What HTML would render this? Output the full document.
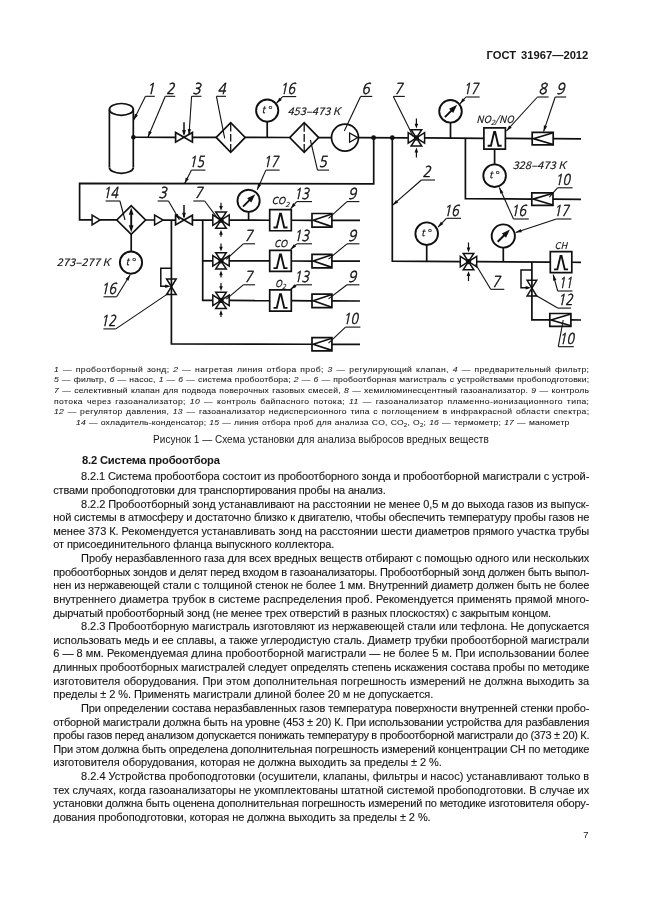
<!DOCTYPE html>
<html lang="ru"><head><meta charset="utf-8"><title>ГОСТ 31967—2012</title>
<style>
html,body{margin:0;padding:0;background:#fff;}
body{width:646px;height:913px;position:relative;overflow:hidden;font-family:"Liberation Sans", Arial, sans-serif;color:#161616;}
.l{position:absolute;white-space:nowrap;margin:0;}
.b{font-size:11.0px;line-height:14px;height:14px;-webkit-text-stroke:0.12px #161616;}
.g{font-size:7.6px;line-height:10px;height:10px;transform:scaleX(1.13);transform-origin:0 0;-webkit-text-stroke:0.07px #161616;}
.g sub{font-size:5.5px;line-height:0;vertical-align:-1.5px;}
svg{position:absolute;left:0;top:0;}
#sheet{position:absolute;left:0;top:0;width:646px;height:913px;will-change:transform;}
</style></head>
<body>
<div id="sheet">
<svg width="646" height="360" viewBox="0 0 646 360">
<g transform="translate(0 0.4)" stroke="#101010" fill="none" stroke-linecap="butt" stroke-linejoin="miter" font-family="'Noto Sans CJK SC', 'Liberation Sans', sans-serif" font-style="italic">
<ellipse cx="121.35" cy="109.0" rx="11.95" ry="5.9" stroke-width="1.7" fill="none"/>
<line x1="109.4" y1="109" x2="109.4" y2="167" stroke-width="1.7"/>
<line x1="133.3" y1="109" x2="133.3" y2="167" stroke-width="1.7"/>
<path d="M109.4,167.0 A11.95,5.9 0 0 0 133.3,167.0" stroke-width="1.7" fill="none"/>
<circle cx="133.4" cy="136.86" r="2.3" fill="#101010" stroke="none"/>
<line x1="133.2" y1="136.86" x2="175.6" y2="136.93" stroke-width="1.7"/>
<line x1="192.4" y1="136.96" x2="216.2" y2="137" stroke-width="1.7"/>
<line x1="245.2" y1="137.05" x2="289.7" y2="137.12" stroke-width="1.7"/>
<line x1="318.7" y1="137.17" x2="331.1" y2="137.19" stroke-width="1.7"/>
<line x1="358.9" y1="137.23" x2="407.9" y2="137.45" stroke-width="1.7"/>
<line x1="424.9" y1="137.55" x2="483.9" y2="137.9" stroke-width="1.7"/>
<line x1="505.4" y1="138.02" x2="532.2" y2="138.18" stroke-width="1.7"/>
<line x1="553.2" y1="138.3" x2="581" y2="138.47" stroke-width="1.7"/>
<polygon points="175.6,132.15 175.6,141.75 184,136.95" stroke-width="1.7" fill="none"/>
<polygon points="192.4,132.15 192.4,141.75 184,136.95" stroke-width="1.7" fill="none"/>
<line x1="184" y1="121.95" x2="184" y2="133.95" stroke-width="1.5"/>
<polygon points="184,135.95 182.1,129.55 185.9,129.55" fill="#101010" stroke="none"/>
<polygon points="216.2,137.02 230.7,122.22 245.2,137.02 230.7,151.82" stroke-width="1.7" fill="none"/>
<line x1="230.7" y1="123.52" x2="230.7" y2="150.52" stroke-width="1.3" stroke-dasharray="7.6 2.4"/>
<circle cx="267.2" cy="110.2" r="11.1" stroke-width="1.9" fill="none"/>
<text x="261.6" y="113" font-size="9.8" text-anchor="start" fill="#101010" stroke="#101010" stroke-width="0.1" stroke-width="0.3">t</text>
<text x="268.2" y="114.8" font-size="12" text-anchor="start" fill="#101010" stroke="#101010" stroke-width="0.1" stroke-width="0.5" font-style="normal">°</text>
<line x1="267.2" y1="121.3" x2="267.2" y2="137.08" stroke-width="1.7"/>
<polygon points="289.7,137.14 304.2,122.34 318.7,137.14 304.2,151.94" stroke-width="1.7" fill="none"/>
<line x1="304.2" y1="123.64" x2="304.2" y2="150.64" stroke-width="1.3" stroke-dasharray="7.6 2.4"/>
<circle cx="345" cy="137.21" r="13.5" stroke-width="1.7" fill="none"/>
<polygon points="349.6,132.61 349.6,141.81 357.8,137.21" stroke-width="1.3" fill="none"/>
<circle cx="373.6" cy="137.26" r="2.4" fill="#101010" stroke="none"/>
<circle cx="392.3" cy="137.36" r="2.4" fill="#101010" stroke="none"/>
<polygon points="408.2,132.2 408.2,142.8 416.4,137.5" stroke-width="1.5" fill="none"/>
<polygon points="424.6,132.2 424.6,142.8 416.4,137.5" stroke-width="1.5" fill="none"/>
<polygon points="411.1,129.3 421.7,129.3 416.4,137.5" stroke-width="1.5" fill="none"/>
<polygon points="411.1,145.7 421.7,145.7 416.4,137.5" stroke-width="1.5" fill="none"/>
<circle cx="416.4" cy="137.5" r="2.6" fill="#101010" stroke="none"/>
<line x1="416.4" y1="118.2" x2="416.4" y2="125.5" stroke-width="1.2"/>
<polygon points="416.4,128.2 414.6,123.4 418.2,123.4" fill="#101010" stroke="none"/>
<line x1="416.4" y1="157.2" x2="416.4" y2="149.5" stroke-width="1.2"/>
<polygon points="416.4,147.2 418.2,152 414.6,152" fill="#101010" stroke="none"/>
<circle cx="450.5" cy="110.9" r="11.3" stroke-width="1.9" fill="none"/>
<line x1="444.9" y1="116.7" x2="453.9" y2="107.7" stroke-width="2.0"/>
<polygon points="457.2,104.4 453.17,112.53 449.07,108.43" fill="#101010" stroke="none"/>
<line x1="450.5" y1="122.2" x2="450.5" y2="137.7" stroke-width="1.7"/>
<polygon points="483.9,127.46 505.4,127.46 505.4,148.66 483.9,148.66" stroke-width="1.7" fill="none"/>
<polyline points="487.65,145.36 490.95,145.36 494.15,131.66 495.15,131.66 498.35,145.36 501.65,145.36" stroke-width="1.9" fill="none"/>
<polygon points="532.2,131.94 553.2,131.94 553.2,144.54 532.2,144.54" stroke-width="1.7" fill="none"/>
<polyline points="553.2,132.44 533.4,138.24 553.2,144.04" stroke-width="1.6" fill="none"/>
<polyline points="465.4,137.79 465.4,198.36 531.8,198.67" stroke-width="1.7" fill="none"/>
<polygon points="531.8,192.42 553,192.42 553,205.02 531.8,205.02" stroke-width="1.7" fill="none"/>
<polyline points="553,192.92 533,198.72 553,204.52" stroke-width="1.6" fill="none"/>
<line x1="553" y1="198.77" x2="581" y2="198.89" stroke-width="1.7"/>
<line x1="494.6" y1="148.66" x2="494.6" y2="164" stroke-width="1.7"/>
<circle cx="494.6" cy="175.3" r="11.3" stroke-width="1.9" fill="none"/>
<text x="489" y="178.1" font-size="9.8" text-anchor="start" fill="#101010" stroke="#101010" stroke-width="0.1" stroke-width="0.3">t</text>
<text x="495.6" y="179.9" font-size="12" text-anchor="start" fill="#101010" stroke="#101010" stroke-width="0.1" stroke-width="0.5" font-style="normal">°</text>
<polyline points="373.7,137.26 373.7,183.5 79.6,183 79.6,219.49 92,219.52" stroke-width="1.7" fill="none"/>
<polygon points="92.1,214.62 92.1,224.42 100.1,219.52" stroke-width="1.5" fill="none"/>
<line x1="100.1" y1="219.53" x2="116.8" y2="219.56" stroke-width="1.7"/>
<polygon points="116.8,219.58 131.2,205.18 145.6,219.58 131.2,233.98" stroke-width="1.7" fill="none"/>
<line x1="131.2" y1="212.58" x2="131.2" y2="226.58" stroke-width="1.9"/>
<polygon points="131.2,206.98 133.5,214.38 128.9,214.38" fill="#101010" stroke="none"/>
<polygon points="131.2,232.18 128.9,224.78 133.5,224.78" fill="#101010" stroke="none"/>
<line x1="131.2" y1="233.98" x2="131.2" y2="251.2" stroke-width="1.7"/>
<circle cx="131" cy="262.2" r="11.1" stroke-width="1.9" fill="none"/>
<text x="125.4" y="265" font-size="9.8" text-anchor="start" fill="#101010" stroke="#101010" stroke-width="0.1" stroke-width="0.3">t</text>
<text x="132" y="266.8" font-size="12" text-anchor="start" fill="#101010" stroke="#101010" stroke-width="0.1" stroke-width="0.5" font-style="normal">°</text>
<line x1="145.6" y1="219.61" x2="154.6" y2="219.62" stroke-width="1.7"/>
<polygon points="154.6,214.73 154.6,224.53 163.1,219.63" stroke-width="1.5" fill="none"/>
<line x1="163.1" y1="219.64" x2="175.6" y2="219.66" stroke-width="1.7"/>
<polygon points="175.6,214.88 175.6,224.48 184,219.68" stroke-width="1.7" fill="none"/>
<polygon points="192.4,214.88 192.4,224.48 184,219.68" stroke-width="1.7" fill="none"/>
<line x1="184" y1="204.68" x2="184" y2="216.68" stroke-width="1.5"/>
<polygon points="184,218.68 182.1,212.28 185.9,212.28" fill="#101010" stroke="none"/>
<line x1="192.4" y1="219.69" x2="212.8" y2="219.73" stroke-width="1.7"/>
<polygon points="212.8,214.44 212.8,225.04 221,219.74" stroke-width="1.5" fill="none"/>
<polygon points="229.2,214.44 229.2,225.04 221,219.74" stroke-width="1.5" fill="none"/>
<polygon points="215.7,211.54 226.3,211.54 221,219.74" stroke-width="1.5" fill="none"/>
<polygon points="215.7,227.94 226.3,227.94 221,219.74" stroke-width="1.5" fill="none"/>
<circle cx="221" cy="219.74" r="2.6" fill="#101010" stroke="none"/>
<line x1="221" y1="202.44" x2="221" y2="207.74" stroke-width="1.2"/>
<polygon points="221,210.44 219.2,205.64 222.8,205.64" fill="#101010" stroke="none"/>
<line x1="221" y1="236.34" x2="221" y2="231.74" stroke-width="1.2"/>
<polygon points="221,229.44 222.8,234.24 219.2,234.24" fill="#101010" stroke="none"/>
<line x1="229.2" y1="219.75" x2="269.7" y2="219.83" stroke-width="1.7"/>
<polygon points="269.7,209.14 291.3,209.14 291.3,230.34 269.7,230.34" stroke-width="1.7" fill="none"/>
<polyline points="273.5,227.04 276.8,227.04 280,213.34 281,213.34 284.2,227.04 287.5,227.04" stroke-width="1.9" fill="none"/>
<line x1="291.3" y1="219.86" x2="312" y2="219.9" stroke-width="1.7"/>
<polygon points="312,213.12 331.9,213.12 331.9,226.72 312,226.72" stroke-width="1.7" fill="none"/>
<polyline points="331.9,213.62 313.2,219.92 331.9,226.22" stroke-width="1.6" fill="none"/>
<line x1="331.9" y1="219.93" x2="360" y2="219.98" stroke-width="1.7"/>
<polygon points="212.8,255.13 212.8,265.73 221,260.43" stroke-width="1.5" fill="none"/>
<polygon points="229.2,255.13 229.2,265.73 221,260.43" stroke-width="1.5" fill="none"/>
<polygon points="215.7,252.23 226.3,252.23 221,260.43" stroke-width="1.5" fill="none"/>
<polygon points="215.7,268.63 226.3,268.63 221,260.43" stroke-width="1.5" fill="none"/>
<circle cx="221" cy="260.43" r="2.6" fill="#101010" stroke="none"/>
<line x1="221" y1="243.13" x2="221" y2="248.43" stroke-width="1.2"/>
<polygon points="221,251.13 219.2,246.33 222.8,246.33" fill="#101010" stroke="none"/>
<line x1="221" y1="277.03" x2="221" y2="272.43" stroke-width="1.2"/>
<polygon points="221,270.13 222.8,274.93 219.2,274.93" fill="#101010" stroke="none"/>
<line x1="229.2" y1="260.45" x2="269.7" y2="260.55" stroke-width="1.7"/>
<polygon points="269.7,249.88 291.3,249.88 291.3,271.07 269.7,271.07" stroke-width="1.7" fill="none"/>
<polyline points="273.5,267.77 276.8,267.77 280,254.07 281,254.07 284.2,267.77 287.5,267.77" stroke-width="1.9" fill="none"/>
<line x1="291.3" y1="260.6" x2="312" y2="260.65" stroke-width="1.7"/>
<polygon points="312,253.88 331.9,253.88 331.9,267.48 312,267.48" stroke-width="1.7" fill="none"/>
<polyline points="331.9,254.38 313.2,260.68 331.9,266.98" stroke-width="1.6" fill="none"/>
<line x1="331.9" y1="260.7" x2="360" y2="260.77" stroke-width="1.7"/>
<line x1="202.7" y1="260.38" x2="212.8" y2="260.41" stroke-width="1.7"/>
<polygon points="212.8,294.67 212.8,305.27 221,299.97" stroke-width="1.5" fill="none"/>
<polygon points="229.2,294.67 229.2,305.27 221,299.97" stroke-width="1.5" fill="none"/>
<polygon points="215.7,291.77 226.3,291.77 221,299.97" stroke-width="1.5" fill="none"/>
<polygon points="215.7,308.17 226.3,308.17 221,299.97" stroke-width="1.5" fill="none"/>
<circle cx="221" cy="299.97" r="2.6" fill="#101010" stroke="none"/>
<line x1="221" y1="282.67" x2="221" y2="287.97" stroke-width="1.2"/>
<polygon points="221,290.67 219.2,285.87 222.8,285.87" fill="#101010" stroke="none"/>
<line x1="221" y1="316.57" x2="221" y2="311.97" stroke-width="1.2"/>
<polygon points="221,309.67 222.8,314.47 219.2,314.47" fill="#101010" stroke="none"/>
<line x1="229.2" y1="300.01" x2="269.7" y2="300.2" stroke-width="1.7"/>
<polygon points="269.7,289.55 291.3,289.55 291.3,310.75 269.7,310.75" stroke-width="1.7" fill="none"/>
<polyline points="273.5,307.44 276.8,307.44 280,293.75 281,293.75 284.2,307.44 287.5,307.44" stroke-width="1.9" fill="none"/>
<line x1="291.3" y1="300.3" x2="312" y2="300.4" stroke-width="1.7"/>
<polygon points="312,293.64 331.9,293.64 331.9,307.24 312,307.24" stroke-width="1.7" fill="none"/>
<polyline points="331.9,294.14 313.2,300.44 331.9,306.74" stroke-width="1.6" fill="none"/>
<line x1="331.9" y1="300.49" x2="360" y2="300.62" stroke-width="1.7"/>
<line x1="202.7" y1="299.88" x2="212.8" y2="299.93" stroke-width="1.7"/>
<line x1="202.7" y1="219.71" x2="202.7" y2="300.68" stroke-width="1.7"/>
<circle cx="248.6" cy="200.4" r="11.1" stroke-width="1.9" fill="none"/>
<line x1="243" y1="206.2" x2="252" y2="197.2" stroke-width="2.0"/>
<polygon points="255.3,193.9 251.27,202.03 247.17,197.93" fill="#101010" stroke="none"/>
<line x1="248.6" y1="211.5" x2="248.6" y2="219.79" stroke-width="1.7"/>
<polyline points="171.4,219.65 171.4,343.46 312,343.85" stroke-width="1.7" fill="none"/>
<polygon points="312,337.28 331.9,337.28 331.9,350.48 312,350.48" stroke-width="1.7" fill="none"/>
<polyline points="331.9,337.78 313.2,343.88 331.9,349.98" stroke-width="1.6" fill="none"/>
<line x1="331.9" y1="343.91" x2="360" y2="343.98" stroke-width="1.7"/>
<polygon points="166.6,278.5 176.2,278.5 171.4,286.3" stroke-width="1.5" fill="none"/>
<polygon points="166.6,294.1 176.2,294.1 171.4,286.3" stroke-width="1.5" fill="none"/>
<polyline points="171.4,267.9 160.8,267.9 160.8,285.9 167.4,285.9" stroke-width="1.5" fill="none"/>
<polygon points="170.8,285.9 165.2,287.6 165.2,284.2" fill="#101010" stroke="none"/>
<polyline points="392.3,137.36 392.3,260.7 459.9,261.13" stroke-width="1.7" fill="none"/>
<circle cx="426.7" cy="233.3" r="11.3" stroke-width="1.9" fill="none"/>
<text x="421.1" y="236.1" font-size="9.8" text-anchor="start" fill="#101010" stroke="#101010" stroke-width="0.1" stroke-width="0.3">t</text>
<text x="427.7" y="237.9" font-size="12" text-anchor="start" fill="#101010" stroke="#101010" stroke-width="0.1" stroke-width="0.5" font-style="normal">°</text>
<line x1="426.7" y1="244.6" x2="426.7" y2="260.92" stroke-width="1.7"/>
<polygon points="460.3,255.88 460.3,266.48 468.5,261.18" stroke-width="1.5" fill="none"/>
<polygon points="476.7,255.88 476.7,266.48 468.5,261.18" stroke-width="1.5" fill="none"/>
<polygon points="463.2,252.98 473.8,252.98 468.5,261.18" stroke-width="1.5" fill="none"/>
<polygon points="463.2,269.38 473.8,269.38 468.5,261.18" stroke-width="1.5" fill="none"/>
<circle cx="468.5" cy="261.18" r="2.6" fill="#101010" stroke="none"/>
<line x1="468.5" y1="242.08" x2="468.5" y2="249.18" stroke-width="1.2"/>
<polygon points="468.5,251.88 466.7,247.08 470.3,247.08" fill="#101010" stroke="none"/>
<line x1="468.5" y1="280.68" x2="468.5" y2="273.18" stroke-width="1.2"/>
<polygon points="468.5,270.88 470.3,275.68 466.7,275.68" fill="#101010" stroke="none"/>
<line x1="477" y1="261.24" x2="550.4" y2="261.7" stroke-width="1.7"/>
<circle cx="503.3" cy="235.6" r="11.6" stroke-width="1.9" fill="none"/>
<line x1="497.7" y1="241.4" x2="506.7" y2="232.4" stroke-width="2.0"/>
<polygon points="510,229.1 505.97,237.23 501.87,233.13" fill="#101010" stroke="none"/>
<line x1="503.3" y1="247.2" x2="503.3" y2="261.4" stroke-width="1.7"/>
<polygon points="550.3,251.27 571.8,251.27 571.8,272.27 550.3,272.27" stroke-width="1.7" fill="none"/>
<polyline points="554.05,268.97 557.35,268.97 560.55,255.47 561.55,255.47 564.75,268.97 568.05,268.97" stroke-width="1.9" fill="none"/>
<line x1="572.2" y1="261.84" x2="581" y2="261.89" stroke-width="1.7"/>
<polyline points="531.9,261.58 531.9,319.41 549.8,319.48" stroke-width="1.7" fill="none"/>
<polygon points="527.1,279.9 536.7,279.9 531.9,287.7" stroke-width="1.5" fill="none"/>
<polygon points="527.1,295.5 536.7,295.5 531.9,287.7" stroke-width="1.5" fill="none"/>
<polyline points="531.9,269.5 521,269.5 521,287.3 527.9,287.3" stroke-width="1.5" fill="none"/>
<polygon points="531.3,287.3 525.7,289 525.7,285.6" fill="#101010" stroke="none"/>
<polygon points="549.8,313.12 570.9,313.12 570.9,325.92 549.8,325.92" stroke-width="1.7" fill="none"/>
<polyline points="570.9,313.62 551,319.52 570.9,325.42" stroke-width="1.6" fill="none"/>
<line x1="570.8" y1="319.56" x2="581" y2="319.6" stroke-width="1.7"/>
<line x1="145.5" y1="95.9" x2="154.8" y2="95.9" stroke-width="1.1"/>
<line x1="145.5" y1="95.9" x2="133.7" y2="119.6" stroke-width="1.1"/>
<polygon points="133.7,119.6 134.85,113.47 137.9,114.99" fill="#101010" stroke="none"/>
<text x="146.5" y="93.3" font-size="15.0" text-anchor="start" fill="#101010" stroke="#101010" stroke-width="0.45" textLength="8.2" lengthAdjust="spacingAndGlyphs" font-family="NanumGothic, 'Liberation Sans', sans-serif">1</text>
<line x1="165.3" y1="95.9" x2="175.2" y2="95.9" stroke-width="1.1"/>
<line x1="165.3" y1="95.9" x2="147.9" y2="136.8" stroke-width="1.1"/>
<polygon points="147.9,136.8 148.68,130.61 151.81,131.94" fill="#101010" stroke="none"/>
<text x="166.3" y="93.3" font-size="15.0" text-anchor="start" fill="#101010" stroke="#101010" stroke-width="0.45" textLength="8.2" lengthAdjust="spacingAndGlyphs" font-family="NanumGothic, 'Liberation Sans', sans-serif">2</text>
<line x1="191.6" y1="95.9" x2="201.5" y2="95.9" stroke-width="1.1"/>
<line x1="191.6" y1="95.9" x2="189" y2="134.6" stroke-width="1.1"/>
<polygon points="189,134.6 187.71,128.5 191.1,128.73" fill="#101010" stroke="none"/>
<text x="192.6" y="93.3" font-size="15.0" text-anchor="start" fill="#101010" stroke="#101010" stroke-width="0.45" textLength="8.2" lengthAdjust="spacingAndGlyphs" font-family="NanumGothic, 'Liberation Sans', sans-serif">3</text>
<line x1="216.4" y1="95.9" x2="226" y2="95.9" stroke-width="1.1"/>
<line x1="216.4" y1="95.9" x2="224.7" y2="137.9" stroke-width="1.1"/>
<text x="217.4" y="93.3" font-size="15.0" text-anchor="start" fill="#101010" stroke="#101010" stroke-width="0.45" textLength="8.2" lengthAdjust="spacingAndGlyphs" font-family="NanumGothic, 'Liberation Sans', sans-serif">4</text>
<line x1="282.6" y1="96.2" x2="296.2" y2="96.2" stroke-width="1.1"/>
<line x1="282.6" y1="96.2" x2="276.5" y2="102.8" stroke-width="1.1"/>
<polygon points="276.5,102.8 279.32,97.24 281.82,99.55" fill="#101010" stroke="none"/>
<text x="280" y="93.6" font-size="15.0" text-anchor="start" fill="#101010" stroke="#101010" stroke-width="0.45" textLength="15" lengthAdjust="spacingAndGlyphs" font-family="NanumGothic, 'Liberation Sans', sans-serif">16</text>
<line x1="360.6" y1="96" x2="372.3" y2="96" stroke-width="1.1"/>
<line x1="360.6" y1="96" x2="344.3" y2="130.6" stroke-width="1.1"/>
<text x="361.6" y="93.4" font-size="15.0" text-anchor="start" fill="#101010" stroke="#101010" stroke-width="0.45" textLength="8.2" lengthAdjust="spacingAndGlyphs" font-family="NanumGothic, 'Liberation Sans', sans-serif">6</text>
<line x1="393.3" y1="96" x2="404.8" y2="96" stroke-width="1.1"/>
<line x1="393.3" y1="96" x2="413.2" y2="136.2" stroke-width="1.1"/>
<text x="394.3" y="93.4" font-size="15.0" text-anchor="start" fill="#101010" stroke="#101010" stroke-width="0.45" textLength="8.2" lengthAdjust="spacingAndGlyphs" font-family="NanumGothic, 'Liberation Sans', sans-serif">7</text>
<line x1="465.8" y1="96.6" x2="479.6" y2="96.6" stroke-width="1.1"/>
<line x1="465.8" y1="96.6" x2="460" y2="103.4" stroke-width="1.1"/>
<polygon points="460,103.4 462.6,97.73 465.19,99.94" fill="#101010" stroke="none"/>
<text x="463.2" y="94" font-size="15.0" text-anchor="start" fill="#101010" stroke="#101010" stroke-width="0.45" textLength="15" lengthAdjust="spacingAndGlyphs" font-family="NanumGothic, 'Liberation Sans', sans-serif">17</text>
<line x1="537.4" y1="96.6" x2="548.6" y2="96.6" stroke-width="1.1"/>
<line x1="537.4" y1="96.6" x2="506.4" y2="130.6" stroke-width="1.1"/>
<polygon points="506.4,130.6 509.19,125.02 511.7,127.31" fill="#101010" stroke="none"/>
<text x="538.4" y="94" font-size="15.0" text-anchor="start" fill="#101010" stroke="#101010" stroke-width="0.45" textLength="8.2" lengthAdjust="spacingAndGlyphs" font-family="NanumGothic, 'Liberation Sans', sans-serif">8</text>
<line x1="555.2" y1="96.6" x2="566.2" y2="96.6" stroke-width="1.1"/>
<line x1="555.2" y1="96.6" x2="543.6" y2="131.2" stroke-width="1.1"/>
<polygon points="543.6,131.2 543.9,124.97 547.12,126.05" fill="#101010" stroke="none"/>
<text x="556.2" y="94" font-size="15.0" text-anchor="start" fill="#101010" stroke="#101010" stroke-width="0.45" textLength="8.2" lengthAdjust="spacingAndGlyphs" font-family="NanumGothic, 'Liberation Sans', sans-serif">9</text>
<line x1="317.5" y1="169.7" x2="329" y2="169.7" stroke-width="1.1"/>
<line x1="317.5" y1="169.7" x2="310.4" y2="139.6" stroke-width="1.1"/>
<text x="318.5" y="167.1" font-size="15.0" text-anchor="start" fill="#101010" stroke="#101010" stroke-width="0.45" textLength="8.2" lengthAdjust="spacingAndGlyphs" font-family="NanumGothic, 'Liberation Sans', sans-serif">5</text>
<line x1="191.5" y1="169.7" x2="205.4" y2="169.7" stroke-width="1.1"/>
<line x1="191.5" y1="169.7" x2="184.6" y2="183.2" stroke-width="1.1"/>
<polygon points="184.6,183.2 185.82,177.08 188.84,178.63" fill="#101010" stroke="none"/>
<text x="188.9" y="167.1" font-size="15.0" text-anchor="start" fill="#101010" stroke="#101010" stroke-width="0.45" textLength="15" lengthAdjust="spacingAndGlyphs" font-family="NanumGothic, 'Liberation Sans', sans-serif">15</text>
<line x1="265.9" y1="169.7" x2="279.6" y2="169.7" stroke-width="1.1"/>
<line x1="265.9" y1="169.7" x2="257.2" y2="189.4" stroke-width="1.1"/>
<polygon points="257.2,189.4 258.07,183.22 261.18,184.6" fill="#101010" stroke="none"/>
<text x="263.3" y="167.1" font-size="15.0" text-anchor="start" fill="#101010" stroke="#101010" stroke-width="0.45" textLength="15" lengthAdjust="spacingAndGlyphs" font-family="NanumGothic, 'Liberation Sans', sans-serif">17</text>
<line x1="421.4" y1="179.6" x2="435" y2="179.6" stroke-width="1.1"/>
<line x1="421.4" y1="179.6" x2="392.6" y2="204.8" stroke-width="1.1"/>
<polygon points="392.6,204.8 396,199.57 398.23,202.13" fill="#101010" stroke="none"/>
<text x="422.4" y="177" font-size="15.0" text-anchor="start" fill="#101010" stroke="#101010" stroke-width="0.45" textLength="8.2" lengthAdjust="spacingAndGlyphs" font-family="NanumGothic, 'Liberation Sans', sans-serif">2</text>
<line x1="557.5" y1="187.4" x2="572.6" y2="187.4" stroke-width="1.1"/>
<line x1="557.5" y1="187.4" x2="549.3" y2="196.8" stroke-width="1.1"/>
<text x="554.9" y="184.8" font-size="15.0" text-anchor="start" fill="#101010" stroke="#101010" stroke-width="0.45" textLength="15" lengthAdjust="spacingAndGlyphs" font-family="NanumGothic, 'Liberation Sans', sans-serif">10</text>
<line x1="105.6" y1="200.6" x2="119.9" y2="200.6" stroke-width="1.1"/>
<line x1="119.9" y1="200.6" x2="125" y2="219.6" stroke-width="1.1"/>
<text x="103" y="198" font-size="15.0" text-anchor="start" fill="#101010" stroke="#101010" stroke-width="0.45" textLength="15" lengthAdjust="spacingAndGlyphs" font-family="NanumGothic, 'Liberation Sans', sans-serif">14</text>
<line x1="157.6" y1="200.6" x2="168.5" y2="200.6" stroke-width="1.1"/>
<line x1="168.5" y1="200.6" x2="179.4" y2="219.4" stroke-width="1.1"/>
<polygon points="179.4,219.4 174.92,215.06 177.86,213.36" fill="#101010" stroke="none"/>
<text x="158.6" y="198" font-size="15.0" text-anchor="start" fill="#101010" stroke="#101010" stroke-width="0.45" textLength="8.2" lengthAdjust="spacingAndGlyphs" font-family="NanumGothic, 'Liberation Sans', sans-serif">3</text>
<line x1="193.3" y1="200.6" x2="204.7" y2="200.6" stroke-width="1.1"/>
<line x1="204.7" y1="200.6" x2="218" y2="218.4" stroke-width="1.1"/>
<text x="194.3" y="198" font-size="15.0" text-anchor="start" fill="#101010" stroke="#101010" stroke-width="0.45" textLength="8.2" lengthAdjust="spacingAndGlyphs" font-family="NanumGothic, 'Liberation Sans', sans-serif">7</text>
<line x1="296.6" y1="201.2" x2="312" y2="201.2" stroke-width="1.1"/>
<line x1="296.6" y1="201.2" x2="290.6" y2="208.33" stroke-width="1.1"/>
<polygon points="290.6,208.33 293.16,202.64 295.76,204.83" fill="#101010" stroke="none"/>
<text x="294" y="198.6" font-size="15.0" text-anchor="start" fill="#101010" stroke="#101010" stroke-width="0.45" textLength="15" lengthAdjust="spacingAndGlyphs" font-family="NanumGothic, 'Liberation Sans', sans-serif">13</text>
<line x1="347" y1="201.2" x2="359.4" y2="201.2" stroke-width="1.1"/>
<line x1="347" y1="201.2" x2="328.5" y2="217.93" stroke-width="1.1"/>
<text x="348" y="198.6" font-size="15.0" text-anchor="start" fill="#101010" stroke="#101010" stroke-width="0.45" textLength="8.2" lengthAdjust="spacingAndGlyphs" font-family="NanumGothic, 'Liberation Sans', sans-serif">9</text>
<line x1="296.6" y1="243.4" x2="312" y2="243.4" stroke-width="1.1"/>
<line x1="296.6" y1="243.4" x2="290.6" y2="249.1" stroke-width="1.1"/>
<polygon points="290.6,249.1 293.78,243.74 296.12,246.2" fill="#101010" stroke="none"/>
<text x="294" y="240.8" font-size="15.0" text-anchor="start" fill="#101010" stroke="#101010" stroke-width="0.45" textLength="15" lengthAdjust="spacingAndGlyphs" font-family="NanumGothic, 'Liberation Sans', sans-serif">13</text>
<line x1="347" y1="243.4" x2="359.4" y2="243.4" stroke-width="1.1"/>
<line x1="347" y1="243.4" x2="328.5" y2="258.7" stroke-width="1.1"/>
<text x="348" y="240.8" font-size="15.0" text-anchor="start" fill="#101010" stroke="#101010" stroke-width="0.45" textLength="8.2" lengthAdjust="spacingAndGlyphs" font-family="NanumGothic, 'Liberation Sans', sans-serif">9</text>
<line x1="296.6" y1="284.4" x2="312" y2="284.4" stroke-width="1.1"/>
<line x1="296.6" y1="284.4" x2="290.6" y2="288.88" stroke-width="1.1"/>
<polygon points="290.6,288.88 294.39,283.93 296.42,286.65" fill="#101010" stroke="none"/>
<text x="294" y="281.8" font-size="15.0" text-anchor="start" fill="#101010" stroke="#101010" stroke-width="0.45" textLength="15" lengthAdjust="spacingAndGlyphs" font-family="NanumGothic, 'Liberation Sans', sans-serif">13</text>
<line x1="347" y1="284.4" x2="359.4" y2="284.4" stroke-width="1.1"/>
<line x1="347" y1="284.4" x2="328.5" y2="298.48" stroke-width="1.1"/>
<text x="348" y="281.8" font-size="15.0" text-anchor="start" fill="#101010" stroke="#101010" stroke-width="0.45" textLength="8.2" lengthAdjust="spacingAndGlyphs" font-family="NanumGothic, 'Liberation Sans', sans-serif">9</text>
<line x1="243.3" y1="243.4" x2="255.1" y2="243.4" stroke-width="1.1"/>
<line x1="243.3" y1="243.4" x2="226.3" y2="258.9" stroke-width="1.1"/>
<text x="244.3" y="240.8" font-size="15.0" text-anchor="start" fill="#101010" stroke="#101010" stroke-width="0.45" textLength="8.2" lengthAdjust="spacingAndGlyphs" font-family="NanumGothic, 'Liberation Sans', sans-serif">7</text>
<line x1="243.3" y1="284.4" x2="255.1" y2="284.4" stroke-width="1.1"/>
<line x1="243.3" y1="284.4" x2="226.3" y2="298.68" stroke-width="1.1"/>
<text x="244.3" y="281.8" font-size="15.0" text-anchor="start" fill="#101010" stroke="#101010" stroke-width="0.45" textLength="8.2" lengthAdjust="spacingAndGlyphs" font-family="NanumGothic, 'Liberation Sans', sans-serif">7</text>
<line x1="345.5" y1="326.7" x2="360.4" y2="326.7" stroke-width="1.1"/>
<line x1="345.5" y1="326.7" x2="328.5" y2="342.7" stroke-width="1.1"/>
<text x="342.9" y="324.1" font-size="15.0" text-anchor="start" fill="#101010" stroke="#101010" stroke-width="0.45" textLength="15" lengthAdjust="spacingAndGlyphs" font-family="NanumGothic, 'Liberation Sans', sans-serif">10</text>
<line x1="103.5" y1="296.4" x2="116.6" y2="296.4" stroke-width="1.1"/>
<line x1="116.6" y1="296.4" x2="130.2" y2="274.4" stroke-width="1.1"/>
<polygon points="130.2,274.4 128.49,280.4 125.6,278.61" fill="#101010" stroke="none"/>
<text x="100.9" y="293.8" font-size="15.0" text-anchor="start" fill="#101010" stroke="#101010" stroke-width="0.45" textLength="15" lengthAdjust="spacingAndGlyphs" font-family="NanumGothic, 'Liberation Sans', sans-serif">16</text>
<line x1="103.4" y1="328.5" x2="115.8" y2="328.5" stroke-width="1.1"/>
<line x1="115.8" y1="328.5" x2="168.4" y2="293" stroke-width="1.1"/>
<text x="100.8" y="325.9" font-size="15.0" text-anchor="start" fill="#101010" stroke="#101010" stroke-width="0.45" textLength="15" lengthAdjust="spacingAndGlyphs" font-family="NanumGothic, 'Liberation Sans', sans-serif">12</text>
<line x1="446.4" y1="217.9" x2="461" y2="217.9" stroke-width="1.1"/>
<line x1="446.4" y1="217.9" x2="438" y2="226.8" stroke-width="1.1"/>
<polygon points="438,226.8 440.88,221.27 443.35,223.6" fill="#101010" stroke="none"/>
<text x="443.8" y="215.3" font-size="15.0" text-anchor="start" fill="#101010" stroke="#101010" stroke-width="0.45" textLength="15" lengthAdjust="spacingAndGlyphs" font-family="NanumGothic, 'Liberation Sans', sans-serif">16</text>
<line x1="513.5" y1="218.6" x2="528.8" y2="218.6" stroke-width="1.1"/>
<line x1="513.5" y1="218.6" x2="499.4" y2="187.2" stroke-width="1.1"/>
<polygon points="499.4,187.2 503.41,191.98 500.31,193.37" fill="#101010" stroke="none"/>
<text x="510.9" y="216" font-size="15.0" text-anchor="start" fill="#101010" stroke="#101010" stroke-width="0.45" textLength="15" lengthAdjust="spacingAndGlyphs" font-family="NanumGothic, 'Liberation Sans', sans-serif">16</text>
<line x1="556.4" y1="218.6" x2="571.4" y2="218.6" stroke-width="1.1"/>
<line x1="556.4" y1="218.6" x2="515.6" y2="232.2" stroke-width="1.1"/>
<polygon points="515.6,232.2 520.75,228.69 521.83,231.92" fill="#101010" stroke="none"/>
<text x="553.8" y="216" font-size="15.0" text-anchor="start" fill="#101010" stroke="#101010" stroke-width="0.45" textLength="15" lengthAdjust="spacingAndGlyphs" font-family="NanumGothic, 'Liberation Sans', sans-serif">17</text>
<line x1="490.7" y1="288.9" x2="504.3" y2="288.9" stroke-width="1.1"/>
<line x1="490.7" y1="288.9" x2="475.6" y2="263.8" stroke-width="1.1"/>
<text x="491.7" y="286.3" font-size="15.0" text-anchor="start" fill="#101010" stroke="#101010" stroke-width="0.45" textLength="8.2" lengthAdjust="spacingAndGlyphs" font-family="NanumGothic, 'Liberation Sans', sans-serif">7</text>
<line x1="557.7" y1="290.6" x2="572.5" y2="290.6" stroke-width="1.1"/>
<line x1="557.7" y1="290.6" x2="553.2" y2="274.2" stroke-width="1.1"/>
<polygon points="553.2,274.2 556.43,279.54 553.15,280.44" fill="#101010" stroke="none"/>
<text x="558.7" y="288" font-size="15.0" text-anchor="start" fill="#101010" stroke="#101010" stroke-width="0.45" textLength="13.4" lengthAdjust="spacingAndGlyphs" font-family="NanumGothic, 'Liberation Sans', sans-serif">11</text>
<line x1="557.7" y1="307.7" x2="571" y2="307.7" stroke-width="1.1"/>
<line x1="557.7" y1="307.7" x2="534.8" y2="294.4" stroke-width="1.1"/>
<text x="557.7" y="305.1" font-size="15.0" text-anchor="start" fill="#101010" stroke="#101010" stroke-width="0.45" textLength="15" lengthAdjust="spacingAndGlyphs" font-family="NanumGothic, 'Liberation Sans', sans-serif">12</text>
<line x1="558.3" y1="346.3" x2="573.8" y2="346.3" stroke-width="1.1"/>
<line x1="558.3" y1="346.3" x2="563.2" y2="319.6" stroke-width="1.1"/>
<text x="558.9" y="343.7" font-size="15.0" text-anchor="start" fill="#101010" stroke="#101010" stroke-width="0.45" textLength="15" lengthAdjust="spacingAndGlyphs" font-family="NanumGothic, 'Liberation Sans', sans-serif">10</text>
<text x="287.4" y="114.4" font-size="10.5" text-anchor="start" fill="#101010" stroke="#101010" stroke-width="0.1" textLength="52.6" lengthAdjust="spacingAndGlyphs">453–473 К</text>
<text x="512.4" y="169.1" font-size="10.5" text-anchor="start" fill="#101010" stroke="#101010" stroke-width="0.1" textLength="53.2" lengthAdjust="spacingAndGlyphs">328–473 К</text>
<text x="56.6" y="265.5" font-size="10.5" text-anchor="start" fill="#101010" stroke="#101010" stroke-width="0.1" textLength="53.2" lengthAdjust="spacingAndGlyphs">273–277 К</text>
<text x="476.2" y="122.4" font-size="10" text-anchor="start" fill="#101010" stroke="#101010" stroke-width="0.1" textLength="37.6" lengthAdjust="spacingAndGlyphs">NO<tspan font-size="7.2" dy="2.2">2</tspan><tspan dy="-2.2">/NO</tspan></text>
<text x="271.6" y="204.1" font-size="9.6" text-anchor="start" fill="#101010" stroke="#101010" stroke-width="0.1" textLength="17.8" lengthAdjust="spacingAndGlyphs">CO<tspan font-size="7" dy="2.1">2</tspan></text>
<text x="274" y="246.6" font-size="9.6" text-anchor="start" fill="#101010" stroke="#101010" stroke-width="0.1" textLength="13.2" lengthAdjust="spacingAndGlyphs">CO</text>
<text x="275" y="286.5" font-size="9.6" text-anchor="start" fill="#101010" stroke="#101010" stroke-width="0.1" textLength="10.8" lengthAdjust="spacingAndGlyphs">O<tspan font-size="7" dy="2.1">2</tspan></text>
<text x="554.6" y="248.9" font-size="9.4" text-anchor="start" fill="#101010" stroke="#101010" stroke-width="0.1" textLength="12.6" lengthAdjust="spacingAndGlyphs">CH</text>
</g></svg>
<p class="l b" style="left:81.1px;top:469.39px;letter-spacing:-0.107px;word-spacing:0.000px">8.2.1 Система пробоотбора состоит из пробоотборного зонда и пробоотборной магистрали с устрой-</p>
<p class="l b" style="left:53.3px;top:483.01px;letter-spacing:-0.181px;word-spacing:0.000px">ствами пробоподготовки для транспортирования пробы на анализ.</p>
<p class="l b" style="left:81.1px;top:496.63px;letter-spacing:-0.072px;word-spacing:0.000px">8.2.2 Пробоотборный зонд устанавливают на расстоянии не менее 0,5 м до выхода газов из выпуск-</p>
<p class="l b" style="left:53.3px;top:510.25px;letter-spacing:-0.161px;word-spacing:0.000px">ной системы в атмосферу и достаточно близко к двигателю, чтобы обеспечить температуру пробы газов не</p>
<p class="l b" style="left:53.3px;top:523.87px;letter-spacing:-0.055px;word-spacing:0.000px">менее 373 К. Рекомендуется устанавливать зонд на расстоянии шести диаметров прямого участка трубы</p>
<p class="l b" style="left:53.3px;top:537.49px;letter-spacing:-0.120px;word-spacing:0.000px">от присоединительного фланца выпускного коллектора.</p>
<p class="l b" style="left:81.1px;top:551.11px;letter-spacing:-0.113px;word-spacing:0.000px">Пробу неразбавленного газа для всех вредных веществ отбирают с помощью одного или нескольких</p>
<p class="l b" style="left:53.3px;top:564.73px;letter-spacing:-0.208px;word-spacing:0.000px">пробоотборных зондов и делят перед входом в газоанализаторы. Пробоотборный зонд должен быть выпол-</p>
<p class="l b" style="left:53.3px;top:578.35px;letter-spacing:-0.121px;word-spacing:0.000px">нен из нержавеющей стали с толщиной стенок не более 1 мм. Внутренний диаметр должен быть не более</p>
<p class="l b" style="left:53.3px;top:591.97px;letter-spacing:0.000px;word-spacing:0.207px">внутреннего диаметра трубок в системе распределения проб. Рекомендуется применять прямой много-</p>
<p class="l b" style="left:53.3px;top:605.59px;letter-spacing:-0.163px;word-spacing:0.000px">дырчатый пробоотборный зонд (не менее трех отверстий в разных плоскостях) с закрытым концом.</p>
<p class="l b" style="left:81.1px;top:619.21px;letter-spacing:-0.076px;word-spacing:0.000px">8.2.3 Пробоотборную магистраль изготовляют из нержавеющей стали или тефлона. Не допускается</p>
<p class="l b" style="left:53.3px;top:632.83px;letter-spacing:-0.084px;word-spacing:0.000px">использовать медь и ее сплавы, а также углеродистую сталь. Диаметр трубки пробоотборной магистрали</p>
<p class="l b" style="left:53.3px;top:646.45px;letter-spacing:-0.001px;word-spacing:0.000px">6 — 8 мм. Рекомендуемая длина пробоотборной магистрали — не более 5 м. При использовании более</p>
<p class="l b" style="left:53.3px;top:660.07px;letter-spacing:-0.114px;word-spacing:0.000px">длинных пробоотборных магистралей следует определять степень искажения состава пробы по методике</p>
<p class="l b" style="left:53.3px;top:673.69px;letter-spacing:0.000px;word-spacing:0.403px">изготовителя оборудования. При этом дополнительная погрешность измерений не должна выходить за</p>
<p class="l b" style="left:53.3px;top:687.31px;letter-spacing:-0.070px;word-spacing:0.000px">пределы ± 2 %. Применять магистрали длиной более 20 м не допускается.</p>
<p class="l b" style="left:81.1px;top:700.93px;letter-spacing:-0.164px;word-spacing:0.000px">При определении состава неразбавленных газов температура поверхности внутренней стенки пробо-</p>
<p class="l b" style="left:53.3px;top:714.55px;letter-spacing:-0.163px;word-spacing:0.000px">отборной магистрали должна быть на уровне (453 ± 20) К. При использовании устройства для разбавления</p>
<p class="l b" style="left:53.3px;top:728.17px;letter-spacing:-0.300px;word-spacing:0.000px">пробы газов перед анализом допускается понижать температуру в пробоотборной магистрали до (373 ± 20) К.</p>
<p class="l b" style="left:53.3px;top:741.79px;letter-spacing:-0.189px;word-spacing:0.000px">При этом должна быть определена дополнительная погрешность измерений концентрации СН по методике</p>
<p class="l b" style="left:53.3px;top:755.41px;letter-spacing:-0.051px;word-spacing:0.000px">изготовителя оборудования, которая не должна выходить за пределы ± 2 %.</p>
<p class="l b" style="left:81.1px;top:769.03px;letter-spacing:-0.013px;word-spacing:0.000px">8.2.4 Устройства пробоподготовки (осушители, клапаны, фильтры и насос) устанавливают только в</p>
<p class="l b" style="left:53.3px;top:782.65px;letter-spacing:-0.040px;word-spacing:0.000px">тех случаях, когда газоанализаторы не укомплектованы штатной системой пробоподготовки. В случае их</p>
<p class="l b" style="left:53.3px;top:796.27px;letter-spacing:-0.174px;word-spacing:0.000px">установки должна быть оценена дополнительная погрешность измерений по методике изготовителя обору-</p>
<p class="l b" style="left:53.3px;top:809.89px;letter-spacing:-0.067px;word-spacing:0.000px">дования пробоподготовки, которая не должна выходить за пределы ± 2 %.</p>
<p class="l g" style="left:53.9px;top:364.97px;letter-spacing:0.322px;word-spacing:0.965px"><i>1</i> — пробоотборный зонд; <i>2</i> — нагретая линия отбора проб; <i>3</i> — регулирующий клапан, <i>4</i> — предварительный фильтр;</p>
<p class="l g" style="left:53.9px;top:375.49px;letter-spacing:0.140px;word-spacing:0.420px"><i>5</i> — фильтр, <i>6</i> — насос, <i>1</i> — <i>6</i> — система пробоотбора; <i>2</i> — <i>6</i> — пробоотборная магистраль с устройствами пробоподготовки;</p>
<p class="l g" style="left:53.9px;top:386.01px;letter-spacing:0.180px;word-spacing:0.541px"><i>7</i> — селективный клапан для подвода поверочных газовых смесей, <i>8</i> — хемилюминесцентный газоанализатор. <i>9</i> — контроль</p>
<p class="l g" style="left:53.9px;top:396.53px;letter-spacing:0.349px;word-spacing:1.046px">потока через газоанализатор; <i>10</i> — контроль байпасного потока; <i>11</i> — газоанализатор пламенно-ионизационного типа;</p>
<p class="l g" style="left:53.9px;top:407.05px;letter-spacing:0.259px;word-spacing:0.776px"><i>12</i> — регулятор давления, <i>13</i> — газоанализатор недисперсионного типа с поглощением в инфракрасной области спектра;</p>
<p class="l g" style="left:75.7px;top:417.57px;letter-spacing:0.148px;word-spacing:0.443px"><i>14</i> — охладитель-конденсатор; <i>15</i> — линия отбора проб для анализа CO, CO<sub>2</sub>, O<sub>2</sub>; <i>16</i> — термометр; <i>17</i> — манометр</p>
<div class="l" style="left:486.5px;top:48.22px;font-size:11.2px;line-height:14px;font-weight:700;word-spacing:1.97px">ГОСТ 31967—2012</div>
<div class="l" style="left:153.1px;top:432.64px;font-size:10px;line-height:13px;letter-spacing:0.020px">Рисунок 1 — Схема установки для анализа выбросов вредных веществ</div>
<h2 class="l" style="left:82px;top:452.82px;font-size:11.2px;line-height:14px;font-weight:700;letter-spacing:-0.176px">8.2 Система пробоотбора</h2>
<div class="l" style="left:583.2px;top:829.34px;font-size:9.4px;line-height:12px">7</div>
</div>
</body></html>
